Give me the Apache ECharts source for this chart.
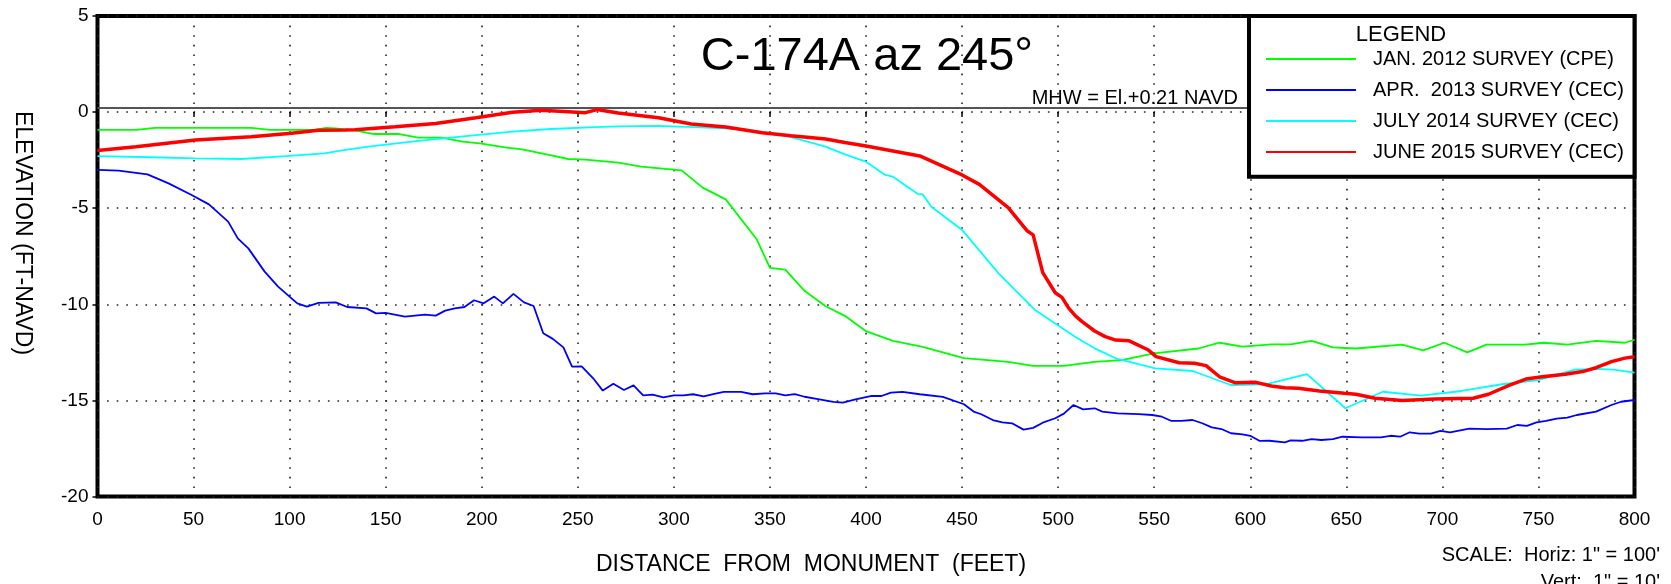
<!DOCTYPE html>
<html>
<head>
<meta charset="utf-8">
<title>C-174A az 245</title>
<script src="https://cdn.jsdelivr.net/npm/echarts/dist/echarts.min.js"></script>
<style>
  body { margin: 0; background: #fff; }
  #profile { width: 1671px; height: 584px; }
</style>
</head>
<body>
<div id="profile"></div>
<script>
  // survey names (legend order)
  let surveyNames = ['JAN. 2012 SURVEY (CPE)', 'APR.  2013 SURVEY (CEC)', 'JULY 2014 SURVEY (CEC)', 'JUNE 2015 SURVEY (CEC)'];
  let surveyColors = ['#00ff00', '#0000ff', '#00ffff', '#ff0000'];
  let mhwLevel = 0.21;

  // [distance ft, elevation ft]
  let jan2012 = [[0,-0.92],[20,-0.92],[30,-0.82],[80,-0.82],[90,-0.92],[113,-0.92],[119,-0.82],[124,-0.85],[134,-0.95],
    [144,-1.14],[157,-1.14],[167,-1.33],[179,-1.33],[190,-1.54],[200,-1.64],[212,-1.83],[221,-1.94],[235,-2.23],[245,-2.44],
    [254,-2.47],[271,-2.63],[283,-2.84],[304,-3.03],[315,-3.93],[327,-4.54],[343,-6.6],[350,-8.1],[358,-8.2],[368,-9.3],
    [379,-10.1],[389,-10.6],[400,-11.4],[414,-11.9],[429,-12.2],[451,-12.8],[474,-13.0],[487,-13.2],[503,-13.2],[519,-13.0],
    [533,-12.9],[550,-12.55],[573,-12.3],[584,-12.0],[596,-12.2],[611,-12.08],[621,-12.08],[632,-11.9],[643,-12.24],
    [655,-12.3],[679,-12.1],[690,-12.4],[701,-12.0],[713,-12.5],[723,-12.1],[743,-12.1],[753,-12.0],[765,-12.1],[780,-11.9],
    [795,-12.0],[800,-11.85]];

  let apr2013 = [[0,-3.01],[11,-3.05],[26,-3.24],[37,-3.71],[49,-4.31],[58,-4.8],[68,-5.7],[73,-6.57],[78.5,-7.09],[87,-8.3],
    [94,-9.08],[104,-9.95],[109,-10.12],[115,-9.93],[124,-9.9],[130,-10.14],[140,-10.21],[145,-10.47],[150,-10.45],[160,-10.64],
    [170.5,-10.54],[176,-10.59],[181,-10.33],[186,-10.21],[191,-10.14],[196,-9.79],[201,-9.95],[206.5,-9.6],[211,-9.95],
    [216.5,-9.46],[222,-9.9],[227,-10.09],[232,-11.51],[237,-11.8],[242.5,-12.24],[247,-13.24],[252,-13.23],[258,-13.85],
    [263,-14.49],[268.5,-14.13],[274,-14.46],[279,-14.22],[284,-14.74],[289,-14.7],[294.5,-14.84],[300,-14.74],[305,-14.74],
    [310,-14.68],[315.5,-14.79],[320.5,-14.67],[326,-14.56],[335,-14.56],[341,-14.68],[347.5,-14.63],[353,-14.63],[358,-14.74],
    [363,-14.67],[368,-14.81],[375,-14.93],[383,-15.08],[388,-15.12],[394,-14.96],[403,-14.77],[408,-14.77],[413,-14.6],
    [419,-14.56],[428,-14.68],[440,-14.82],[451,-15.2],[456,-15.58],[460,-15.72],[466,-16.02],[471,-16.14],[476,-16.19],
    [482,-16.52],[487,-16.43],[492,-16.16],[498.5,-15.93],[503,-15.69],[508,-15.24],[513,-15.47],[519,-15.41],[523,-15.58],
    [531,-15.67],[542,-15.71],[549,-15.76],[554,-15.85],[559,-16.07],[564,-16.07],[570,-16.02],[575,-16.19],[580,-16.4],
    [585,-16.49],[590,-16.71],[596,-16.77],[600,-16.84],[605,-17.11],[610,-17.1],[618,-17.18],[621,-17.08],[627,-17.1],
    [632,-17.01],[637,-17.06],[643,-17.01],[648,-16.89],[658,-16.92],[668,-16.92],[673,-16.84],[678,-16.89],[683,-16.66],
    [688,-16.73],[694,-16.73],[699,-16.59],[704,-16.66],[714,-16.47],[723,-16.49],[733.5,-16.47],[739,-16.28],[744,-16.33],
    [749,-16.14],[754,-16.07],[759.5,-15.95],[765,-15.9],[770,-15.76],[780,-15.58],[788,-15.24],[793,-15.07],[800,-14.98]];

  let july2014 = [[0,-2.29],[28,-2.35],[51,-2.41],[75,-2.44],[98,-2.29],[118,-2.15],[129,-1.97],[141,-1.8],[167,-1.5],
    [193,-1.24],[216,-1.02],[236,-0.88],[259,-0.78],[271,-0.74],[292,-0.72],[314,-0.79],[335,-0.88],[358,-1.23],[379,-1.8],
    [389,-2.2],[400,-2.58],[410,-3.27],[414,-3.36],[427,-4.26],[429.5,-4.28],[434,-4.92],[450,-6.13],[469,-8.39],[488,-10.3],
    [509,-11.7],[519,-12.29],[530,-12.81],[550.5,-13.33],[570,-13.47],[590,-14.2],[608,-14.16],[629.5,-13.63],[649.5,-15.41],
    [669,-14.55],[689,-14.75],[710,-14.51],[731,-14.16],[750,-13.94],[769,-13.4],[780,-13.36],[789,-13.4],[800,-13.55]];

  let june2015 = [[0,-2.0],[20,-1.8],[51,-1.45],[80,-1.28],[101,-1.1],[115,-0.95],[129,-0.93],[134,-0.92],[155,-0.76],
    [176,-0.59],[197,-0.29],[216,-0.01],[231,0.09],[245,0.02],[254,-0.03],[260,0.13],[271,-0.05],[292,-0.29],[309,-0.62],
    [327,-0.78],[346,-1.07],[361,-1.23],[379,-1.4],[389,-1.58],[400,-1.76],[428,-2.28],[450,-3.27],[459,-3.76],[474,-4.97],
    [484,-6.19],[487,-6.39],[492,-8.35],[498.5,-9.4],[502,-9.64],[505.5,-10.2],[509,-10.6],[512.5,-10.9],[519,-11.39],
    [524.5,-11.68],[530,-11.86],[537,-11.9],[547,-12.38],[551,-12.72],[563,-13.04],[571,-13.07],[577,-13.19],[584,-13.77],
    [592,-14.08],[603,-14.06],[611,-14.25],[618,-14.34],[625,-14.37],[636,-14.51],[649,-14.63],[655,-14.68],[665,-14.89],
    [679,-15.0],[696,-14.93],[716,-14.89],[724,-14.68],[735,-14.2],[743.5,-13.89],[752,-13.77],[764,-13.64],[773,-13.5],
    [780,-13.3],[788,-12.98],[795,-12.8],[800,-12.73]];

  let surveyData = [jan2012, apr2013, july2014, june2015];
  let surveyWidths = [1.8, 1.8, 1.8, 3.5];

  let font = "'Liberation Sans', Arial, sans-serif";
  let dotted = { color: '#222', width: 1.6, type: [1.6, 8] };

  let chart = echarts.init(document.getElementById('profile'));

  let series = surveyNames.map((name, i) => ({
    name: name,
    type: 'line',
    data: surveyData[i],
    symbol: 'none',
    z: 3 + i,
    lineStyle: { color: surveyColors[i], width: surveyWidths[i] },
    itemStyle: { color: surveyColors[i] }
  }));

  // mean high water line, stops at the legend box
  series[0].markLine = {
    silent: true,
    symbol: ['none', 'none'],
    label: { show: false },
    lineStyle: { color: '#555', width: 2, type: 'solid' },
    data: [[{ coord: [0, mhwLevel] }, { coord: [600, mhwLevel] }]]
  };

  chart.setOption({
    animation: false,
    backgroundColor: '#fff',
    textStyle: { fontFamily: font },
    grid: {
      left: 97.5, top: 16, right: 36.5, bottom: 87.5,
      show: true, borderColor: '#000', borderWidth: 4, backgroundColor: 'transparent'
    },
    xAxis: {
      type: 'value', min: 0, max: 800, interval: 50,
      axisLine: { show: false },
      axisTick: { show: true, length: 5, lineStyle: { color: '#000', width: 1.5 } },
      axisLabel: { color: '#000', fontSize: 19, margin: 14, fontFamily: font },
      splitLine: { show: true, lineStyle: dotted }
    },
    yAxis: {
      type: 'value', min: -20, max: 5, interval: 5,
      axisLine: { show: false },
      axisTick: { show: true, length: 5, lineStyle: { color: '#000', width: 1.5 } },
      axisLabel: { color: '#000', fontSize: 19, margin: 9, fontFamily: font },
      splitLine: { show: true, lineStyle: dotted }
    },
    legend: {
      data: surveyNames,
      orient: 'vertical',
      left: 1265, top: 49,
      padding: 0,
      itemWidth: 90, itemHeight: 14, itemGap: 11,
      selectedMode: false,
      z: 200,
      itemStyle: { opacity: 0 },
      textStyle: { color: '#000', fontSize: 20, lineHeight: 20, fontFamily: font, padding: [0, 0, 0, 12] }
    },
    graphic: [
      {
        type: 'rect', z: 100,
        shape: { x: 1249, y: 16, width: 385.5, height: 160.7 },
        style: { fill: '#fff', stroke: '#000', lineWidth: 4 }
      },
      {
        type: 'text', z: 150, x: 1401, y: 35,
        style: { text: 'LEGEND', fill: '#000', font: '22px ' + font, textAlign: 'center', textVerticalAlign: 'middle' }
      },
      {
        type: 'text', z: 150, x: 867, y: 57,
        style: { text: 'C-174A az 245°', fill: '#000', font: '47px ' + font, textAlign: 'center', textVerticalAlign: 'middle' }
      },
      {
        type: 'text', z: 150, x: 1238, y: 98,
        style: { text: 'MHW = El.+0.21 NAVD', fill: '#000', font: '20px ' + font, textAlign: 'right', textVerticalAlign: 'middle' }
      },
      {
        type: 'text', z: 150, x: 22, y: 233, rotation: -Math.PI / 2,
        style: { text: 'ELEVATION (FT-NAVD)', fill: '#000', font: '23px ' + font, textAlign: 'center', textVerticalAlign: 'middle' }
      },
      {
        type: 'text', z: 150, x: 811, y: 565,
        style: { text: 'DISTANCE  FROM  MONUMENT  (FEET)', fill: '#000', font: '23px ' + font, textAlign: 'center', textVerticalAlign: 'middle' }
      },
      {
        type: 'text', z: 150, x: 1660, y: 555,
        style: { text: 'SCALE:  Horiz: 1" = 100\'', fill: '#000', font: '20px ' + font, textAlign: 'right', textVerticalAlign: 'middle' }
      },
      {
        type: 'text', z: 150, x: 1660, y: 582,
        style: { text: 'Vert:  1" = 10\'', fill: '#000', font: '20px ' + font, textAlign: 'right', textVerticalAlign: 'middle' }
      }
    ],
    series: series
  });
</script>
</body>
</html>
